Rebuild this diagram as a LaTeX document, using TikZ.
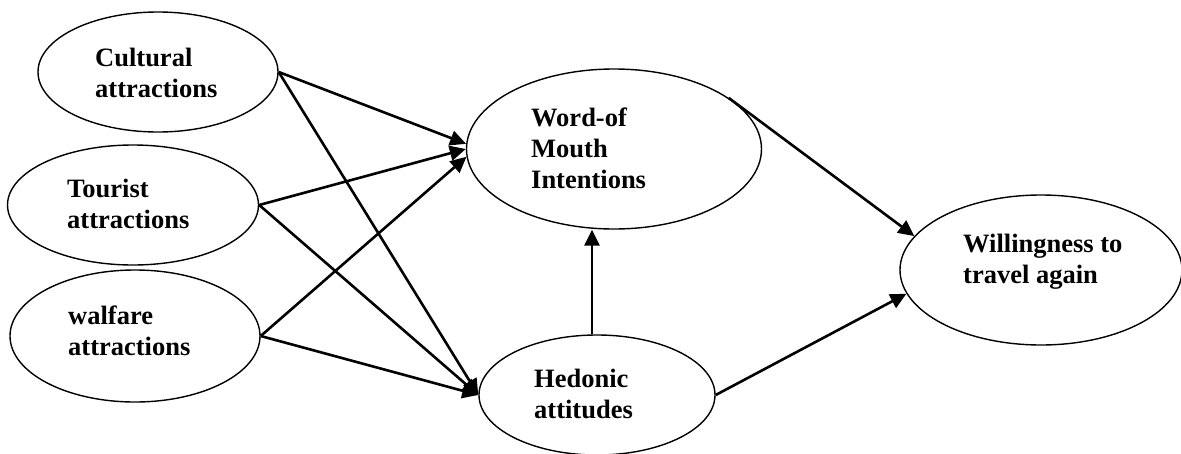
\documentclass[tikz,border=0pt]{standalone}
\usepackage{fontspec}
\setmainfont{Liberation Serif}
\usetikzlibrary{shapes.geometric,arrows.meta}
\begin{document}
\begin{tikzpicture}[x=1pt,y=-1pt,
  ell/.style={draw,ellipse,line width=1.4pt,inner sep=0pt},
  lbl/.style={anchor=base west,align=left,inner sep=0pt,font=\fontsize{26.5}{31}\selectfont\bfseries},
  conn/.style={line width=2.6pt,-{Triangle[length=16pt,width=15pt]}}]
\useasboundingbox (0,0) rectangle (1181,453);
\node[ell,minimum width=240pt,minimum height=120pt] (cul) at (158,72) {};
\node[ell,minimum width=251pt,minimum height=120pt] (tou) at (133,205) {};
\node[ell,minimum width=250pt,minimum height=132pt] (wal) at (135,336) {};
\node[ell,minimum width=295pt,minimum height=160pt] (wom) at (614,149) {};
\node[ell,minimum width=236pt,minimum height=120pt] (hed) at (597,395) {};
\node[ell,minimum width=282pt,minimum height=150pt] (wil) at (1041,270) {};
\node[lbl] (culT) at (95,97) {Cultural\\attractions};
\node[lbl] (touT) at (67,228) {Tourist\\attractions};
\node[lbl] (walT) at (68,355) {walfare\\attractions};
\node[lbl] (womT) at (531,188) {Word-of\\Mouth\\Intentions};
\node[lbl] (hedT) at (534,418) {Hedonic\\attitudes};
\node[lbl] (wilT) at (963,283) {Willingness to\\travel again};
\draw[conn] (cul.east) -- (wom.178);
\draw[conn] (tou.east) -- (wom.west);
\draw[conn] (wal.east) -- (wom.183);
\draw[conn] (cul.east) -- (hed.west);
\draw[conn] (tou.east) -- (hed.west);
\draw[conn] (wal.east) -- (hed.west);
\coordinate (hedTop) at ([xshift=-5pt]hed.north);
\draw[conn] (hedTop) -- (hedTop |- wom.south);
\draw[conn] (wom.24) -- (wil.165);
\draw[conn] (hed.east) -- (wil.190);
\end{tikzpicture}
\end{document}
